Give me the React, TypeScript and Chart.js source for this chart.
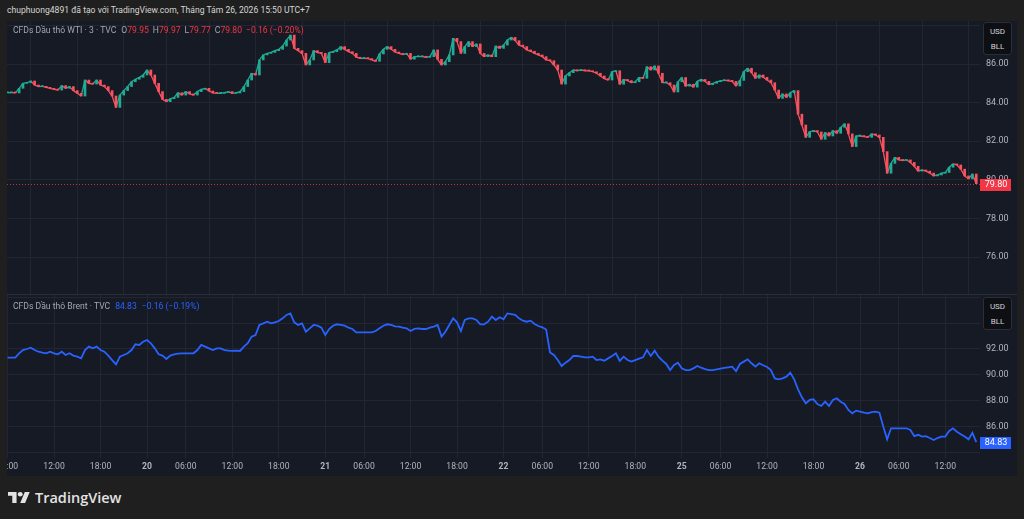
import React, { useEffect, useRef } from "react";
import { Chart, registerables } from "chart.js";

Chart.register(...registerables);

// ---------- data ----------
const STEP_HOURS = 0.5; // one sample every half trading hour (x axis = trading hours since 19th 06:00)

const TICK_HOURS = [0, 6, 12, 18, 23, 29, 35, 41, 46, 52, 58, 64, 69, 75, 81, 87, 92, 98, 104, 110, 115, 121];
const TICK_LABELS = ["06:00", "12:00", "18:00", "20", "06:00", "12:00", "18:00", "21", "06:00", "12:00", "18:00", "22", "06:00", "12:00", "18:00", "25", "06:00", "12:00", "18:00", "26", "06:00", "12:00"];
const DAY_LABELS = ["20", "21", "22", "25", "26"];

const WTI_CLOSE = [
  84.51, 84.52, 84.50, 84.74, 85.00, 85.03, 85.12, 84.91, 84.83, 84.84,
  84.79, 84.74, 84.69, 84.65, 84.88, 84.74, 84.83, 84.62, 84.48, 84.34,
  85.17, 85.00, 84.96, 85.17, 84.91, 84.83, 84.62, 84.34, 83.75, 84.39,
  84.62, 84.83, 85.08, 85.21, 85.31, 85.43, 85.69, 85.43, 85.00, 84.57,
  84.17, 84.05, 84.20, 84.27, 84.51, 84.39, 84.57, 84.45, 84.39, 84.57,
  84.69, 84.74, 84.60, 84.50, 84.48, 84.48, 84.52, 84.57, 84.48, 84.50,
  84.57, 84.83, 85.17, 85.52, 85.43, 86.21, 86.47, 86.55, 86.60, 86.69,
  86.76, 86.93, 87.24, 87.50, 86.81, 86.69, 86.55, 85.95, 86.21, 86.69,
  86.59, 86.55, 86.07, 86.59, 86.64, 86.73, 86.90, 86.76, 86.64, 86.55,
  86.35, 86.29, 86.29, 86.28, 86.21, 86.14, 86.52, 86.76, 86.90, 86.76,
  86.62, 86.55, 86.49, 86.55, 86.25, 86.38, 86.38, 86.38, 86.35, 86.38,
  86.73, 86.24, 85.95, 86.12, 86.47, 87.33, 87.16, 86.55, 86.90, 87.16,
  86.90, 87.04, 86.55, 86.38, 86.47, 86.38, 86.93, 86.81, 86.98, 87.24,
  87.38, 87.21, 86.98, 86.90, 86.73, 86.66, 86.55, 86.47, 86.38, 86.21,
  86.17, 85.95, 85.69, 84.96, 85.38, 85.55, 85.69, 85.65, 85.69, 85.65,
  85.64, 85.60, 85.52, 85.38, 85.24, 85.17, 85.60, 85.65, 84.95, 85.20,
  85.14, 85.03, 85.08, 85.31, 85.26, 85.86, 85.69, 85.90, 85.52, 85.03,
  85.03, 84.91, 84.55, 85.08, 85.30, 84.85, 84.95, 84.80, 85.10, 85.20,
  85.10, 84.93, 85.00, 85.08, 85.13, 85.17, 85.13, 85.10, 84.86, 85.15,
  85.60, 85.78, 85.55, 85.26, 85.43, 85.31, 85.17, 85.03, 84.65, 84.22,
  84.45, 84.27, 84.51, 84.62, 83.40, 82.84, 82.20, 82.49, 82.55, 82.48,
  82.10, 82.45, 82.27, 82.55, 82.41, 82.72, 82.90, 82.38, 81.72, 82.27,
  82.27, 82.24, 82.20, 82.38, 82.32, 82.20, 81.46, 80.34, 80.85, 81.16,
  81.03, 81.00, 81.03, 80.90, 80.70, 80.45, 80.51, 80.45, 80.35, 80.20,
  80.25, 80.34, 80.38, 80.65, 80.82, 80.77, 80.55, 80.20, 80.05, 80.30,
  79.80,
];

const BRENT_CLOSE = [
  91.33, 91.33, 91.33, 91.67, 91.92, 92.00, 92.10, 91.92, 91.79, 91.72,
  91.67, 91.79, 91.67, 91.59, 91.79, 91.54, 91.67, 91.49, 91.41, 91.28,
  91.92, 92.18, 92.05, 92.18, 91.92, 91.79, 91.49, 91.15, 90.82, 91.41,
  91.54, 91.67, 91.92, 92.36, 92.31, 92.56, 92.69, 92.44, 92.05, 91.59,
  91.49, 91.23, 91.49, 91.59, 91.64, 91.67, 91.67, 91.67, 91.67, 91.92,
  92.31, 92.18, 92.05, 91.92, 92.05, 92.05, 91.92, 91.87, 91.85, 91.87,
  91.85, 92.18, 92.44, 92.95, 93.08, 93.85, 93.97, 94.10, 93.97, 94.05,
  94.15, 94.36, 94.62, 94.74, 94.05, 93.85, 93.97, 93.33, 93.59, 93.85,
  93.79, 93.64, 93.08, 93.54, 93.79, 93.90, 93.85, 93.79, 93.64, 93.54,
  93.28, 93.28, 93.28, 93.28, 93.28, 93.38, 93.59, 93.79, 93.90, 93.85,
  93.74, 93.72, 93.64, 93.59, 93.38, 93.54, 93.59, 93.54, 93.54, 93.64,
  93.72, 93.85, 92.95, 93.33, 93.85, 94.36, 94.05, 93.38, 94.23, 94.36,
  94.36, 94.23, 93.90, 93.90, 94.10, 94.49, 94.23, 94.44, 94.28, 94.74,
  94.69, 94.62, 94.36, 94.18, 94.10, 94.18, 93.92, 93.77, 93.67, 93.50,
  91.74, 91.54, 91.15, 90.69, 90.95, 91.15, 91.46, 91.46, 91.41, 91.36,
  91.36, 91.41, 91.15, 91.20, 91.10, 91.28, 91.46, 91.67, 91.08, 91.41,
  91.15, 91.03, 91.15, 91.26, 91.36, 91.92, 91.46, 91.87, 91.41, 91.10,
  90.85, 90.38, 90.77, 90.95, 90.51, 90.38, 90.38, 90.51, 90.69, 90.56,
  90.46, 90.38, 90.38, 90.44, 90.49, 90.54, 90.59, 90.64, 90.30, 90.85,
  91.03, 91.21, 90.90, 90.64, 90.90, 90.75, 90.62, 90.38, 89.74, 89.67,
  89.74, 89.87, 90.18, 89.67, 88.90, 88.28, 87.82, 88.08, 88.13, 87.77,
  87.62, 87.95, 87.62, 88.08, 88.21, 87.95, 87.77, 87.31, 87.05, 87.26,
  87.18, 87.10, 87.05, 87.15, 87.18, 87.10, 86.03, 85.05, 85.90, 85.90,
  85.90, 85.90, 85.90, 85.77, 85.30, 85.40, 85.26, 85.30, 85.15, 85.00,
  85.15, 85.26, 85.26, 85.70, 85.90, 85.64, 85.45, 85.26, 85.05, 85.56,
  84.83,
];

const WTI_OHLC = ["79.95", "79.97", "79.77", "79.80"];
const WTI_CHANGE = "−0.16 (−0.20%)";
const BRENT_LAST = "84.83";
const BRENT_CHANGE = "−0.16 (−0.19%)";

const WTI_TICKS = [74, 76, 78, 80, 82, 84, 86, 88];
const WTI_LABELED = [76, 78, 80, 82, 84, 86];
const BRENT_TICKS = [84, 86, 88, 90, 92, 94, 96];
const BRENT_LABELED = [86, 88, 90, 92];

const TITLE = "chuphuong4891 đã tạo với TradingView.com, Tháng Tám 26, 2026 15:50 UTC+7";

// ---------- style ----------
const FONT = "Roboto, 'Noto Sans', sans-serif";
const OUTER_BG = "#1f1f1f";
const PANE_BG = "#161a25";
const GRID = "#222632";
const AXIS_TEXT = "#b2b5be";
const UP = "#22ab94";
const DOWN = "#f7525f";
const RED = "#f23645";
const BLUE = "#2962ff";

const X_MIN = -0.065;
const X_MAX = 125.48;

function lastPricePlugin(value: number, color: string, dotted: boolean) {
  return {
    id: "lastPrice",
    afterDraw(chart: any) {
      const { ctx, chartArea } = chart;
      const y = Math.round(chart.scales.y.getPixelForValue(value));
      ctx.save();
      if (dotted) {
        ctx.strokeStyle = "rgba(242,54,69,0.8)";
        ctx.lineWidth = 1;
        ctx.setLineDash([1, 2]);
        ctx.beginPath();
        ctx.moveTo(chartArea.left, y + 0.5);
        ctx.lineTo(chartArea.right, y + 0.5);
        ctx.stroke();
        ctx.setLineDash([]);
      }
      ctx.fillStyle = color;
      ctx.fillRect(chartArea.right, y - 5, 31, 12);
      ctx.fillStyle = "#ffffff";
      ctx.font = `9px ${FONT}`;
      ctx.textAlign = "center";
      ctx.textBaseline = "middle";
      ctx.fillText(value.toFixed(2), chartArea.right + 16, y + 1);
      ctx.restore();
    },
  };
}

function xScale(showLabels: boolean) {
  return {
    type: "linear",
    min: X_MIN,
    max: X_MAX,
    offset: false,
    afterBuildTicks: (s: any) => {
      s.ticks = TICK_HOURS.map((v) => ({ value: v }));
    },
    afterFit: (s: any) => {
      s.height = showLabels ? 18 : 0;
      s.paddingLeft = 0;
      s.paddingRight = 0;
      s.paddingTop = 0;
      s.paddingBottom = 0;
    },
    ticks: {
      display: showLabels,
      autoSkip: false,
      maxRotation: 0,
      minRotation: 0,
      padding: 4,
      color: AXIS_TEXT,
      callback: (_v: any, i: number) => TICK_LABELS[i],
      font: (ctx: any) => ({
        family: FONT,
        size: 8.6,
        weight: ctx.tick && DAY_LABELS.includes(ctx.tick.label) ? "bold" : "normal",
      }),
    },
    grid: { color: GRID, drawTicks: false, lineWidth: 1 },
    border: { display: false },
  };
}

function yScale(min: number, max: number, ticks: number[], labeled: number[]) {
  return {
    position: "right",
    min,
    max,
    afterBuildTicks: (s: any) => {
      s.ticks = ticks.map((v) => ({ value: v }));
    },
    afterFit: (s: any) => {
      s.width = 37;
      s.paddingLeft = 0;
      s.paddingRight = 0;
      s.paddingTop = 0;
      s.paddingBottom = 0;
    },
    ticks: {
      padding: 6,
      color: AXIS_TEXT,
      font: { family: FONT, size: 9 },
      callback: (v: any) => (labeled.includes(v) ? Number(v).toFixed(2) : ""),
    },
    grid: { color: GRID, drawTicks: false, lineWidth: 1 },
    border: { display: false },
  };
}

const UnitBox = ({ top }: { top: number }) => (
  <div
    style={{
      position: "absolute",
      left: 983,
      top,
      width: 29,
      height: 33,
      boxSizing: "border-box",
      background: "#0e0f12",
      border: "1px solid #2a2e39",
      borderRadius: 3,
      color: "#d1d4dc",
      font: `8px ${FONT}`,
      lineHeight: "15px",
      textAlign: "center",
      paddingTop: 1,
    }}
  >
    <div>USD</div>
    <div>BLL</div>
  </div>
);

export default function App() {
  const topRef = useRef<HTMLCanvasElement | null>(null);
  const botRef = useRef<HTMLCanvasElement | null>(null);

  useEffect(() => {
    const wtiBars = WTI_CLOSE.map((c, i) => ({
      x: i * STEP_HOURS,
      y: [i === 0 ? c : WTI_CLOSE[i - 1], c],
    }));
    const wtiPts = WTI_CLOSE.map((c, i) => ({ x: i * STEP_HOURS, y: c }));
    const brentPts = BRENT_CLOSE.map((c, i) => ({ x: i * STEP_HOURS, y: c }));

    const common = {
      animation: false,
      responsive: false,
      maintainAspectRatio: false,
      events: [],
      layout: { padding: 0, autoPadding: false },
      plugins: { legend: { display: false }, tooltip: { enabled: false } },
    };

    const c1 = new Chart(topRef.current as HTMLCanvasElement, {
      type: "bar",
      data: {
        datasets: [
          {
            type: "line",
            data: wtiPts as any,
            borderWidth: 1.3,
            pointRadius: 0,
            tension: 0,
            fill: false,
            order: 2,
            borderColor: UP,
            segment: {
              borderColor: (ctx: any) => (ctx.p1.parsed.y >= ctx.p0.parsed.y ? UP : DOWN),
            },
          } as any,
          {
            data: wtiBars as any,
            backgroundColor: (ctx: any) => {
              const r = ctx.raw;
              if (!r) return UP;
              return r.y[1] >= r.y[0] ? UP : DOWN;
            },
            borderWidth: 0,
            barThickness: 2,
            minBarLength: 1,
            order: 1,
          },
        ],
      },
      options: {
        ...common,
        scales: {
          x: xScale(false),
          y: yScale(74.083, 88.228, WTI_TICKS, WTI_LABELED),
        },
      } as any,
      plugins: [lastPricePlugin(WTI_CLOSE[WTI_CLOSE.length - 1], RED, true)],
    });

    const c2 = new Chart(botRef.current as HTMLCanvasElement, {
      type: "line",
      data: {
        datasets: [
          {
            data: brentPts as any,
            borderColor: BLUE,
            borderWidth: 1.8,
            pointRadius: 0,
            tension: 0,
            fill: false,
          },
        ],
      },
      options: {
        ...common,
        scales: {
          x: xScale(true),
          y: yScale(83.615, 96.154, BRENT_TICKS, BRENT_LABELED),
        },
      } as any,
      plugins: [lastPricePlugin(BRENT_CLOSE[BRENT_CLOSE.length - 1], BLUE, false)],
    });

    return () => {
      c1.destroy();
      c2.destroy();
    };
  }, []);

  const legendStyle: React.CSSProperties = {
    position: "absolute",
    left: 13,
    font: `8.6px ${FONT}`,
    color: "#a3a6af",
    whiteSpace: "nowrap",
    lineHeight: "11px",
  };

  return (
    <div
      style={{
        position: "fixed",
        left: 0,
        top: 0,
        width: 1024,
        height: 519,
        background: OUTER_BG,
        overflow: "hidden",
        fontFamily: FONT,
      }}
    >
      <div
        style={{
          position: "absolute",
          left: 7,
          top: 4,
          font: `8.6px ${FONT}`,
          color: "#d6d6d6",
          whiteSpace: "nowrap",
          lineHeight: "13px",
        }}
      >
        {TITLE}
      </div>

      <div style={{ position: "absolute", left: 7, top: 21, width: 1010, height: 455, background: PANE_BG }} />

      <canvas
        ref={topRef}
        width={1010}
        height={273}
        style={{ position: "absolute", left: 7, top: 21, width: 1010, height: 273 }}
      />
      <div style={{ position: "absolute", left: 7, top: 294, width: 1010, height: 1, background: "#2a2e39" }} />
      <canvas
        ref={botRef}
        width={1010}
        height={181}
        style={{ position: "absolute", left: 7, top: 295, width: 1010, height: 181 }}
      />

      <div style={{ ...legendStyle, top: 25 }}>
        <span>CFDs Dầu thô WTI · 3 · TVC</span>
        <span style={{ marginLeft: 5 }}>O</span>
        <span style={{ color: RED }}>{WTI_OHLC[0]}</span>
        <span style={{ marginLeft: 4 }}>H</span>
        <span style={{ color: RED }}>{WTI_OHLC[1]}</span>
        <span style={{ marginLeft: 4 }}>L</span>
        <span style={{ color: RED }}>{WTI_OHLC[2]}</span>
        <span style={{ marginLeft: 4 }}>C</span>
        <span style={{ color: RED }}>{WTI_OHLC[3]}</span>
        <span style={{ color: RED, marginLeft: 4 }}>{WTI_CHANGE}</span>
      </div>

      <div style={{ ...legendStyle, top: 301 }}>
        <span>CFDs Dầu thô Brent · TVC</span>
        <span style={{ color: BLUE, marginLeft: 5 }}>{BRENT_LAST}</span>
        <span style={{ color: BLUE, marginLeft: 5 }}>{BRENT_CHANGE}</span>
      </div>

      <UnitBox top={22} />
      <UnitBox top={297} />

      <div style={{ position: "absolute", left: 8, top: 490, display: "flex", alignItems: "center" }}>
        <svg width="22" height="11" viewBox="0 0 36 20" preserveAspectRatio="none">
          <path d="M14 20H7V7H0V0h14v20zM28 20h-8l7.5-20h8L28 20z" fill="#e3e3e3" />
          <circle cx="20" cy="4" r="4" fill="#e3e3e3" />
        </svg>
        <span
          style={{
            marginLeft: 5,
            font: `600 14.5px 'Open Sans', ${FONT}`,
            color: "#e3e3e3",
            lineHeight: "15px",
          }}
        >
          TradingView
        </span>
      </div>
    </div>
  );
}
